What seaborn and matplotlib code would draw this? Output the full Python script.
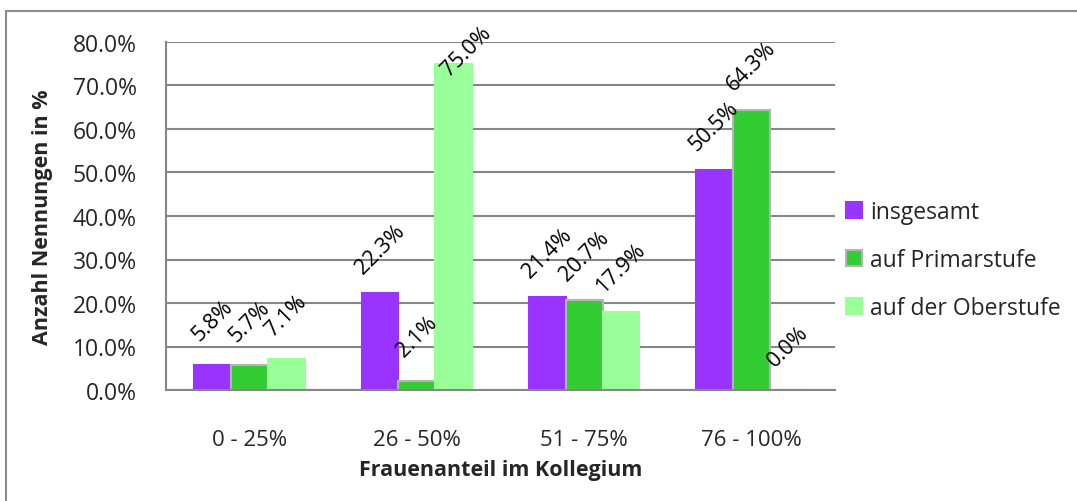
import matplotlib
matplotlib.use("Agg")
import matplotlib.pyplot as plt
import matplotlib.patches as mpatches
import seaborn as sns
import pandas as pd

# Data
categories = ["0 - 25%", "26 - 50%", "51 - 75%", "76 - 100%"]
series_names = ["insgesamt", "auf Primarstufe", "auf der Oberstufe"]
insgesamt = [5.8, 22.3, 21.4, 50.5]
primarstufe = [5.7, 2.1, 20.7, 64.3]
oberstufe = [7.1, 75.0, 17.9, 0.0]
y_ticks = [0, 10, 20, 30, 40, 50, 60, 70, 80]

colors = ["#9933FF", "#33CC33", "#99FF99"]
edge_colors = ["#9933FF", "#B4B4B4", "#99FF99"]
grid_gray = "#868686"

rows = []
for name, vals in zip(series_names, [insgesamt, primarstufe, oberstufe]):
    for cat, v in zip(categories, vals):
        rows.append({"Kategorie": cat, "Serie": name, "Wert": v})
df = pd.DataFrame(rows)

sns.set_style("white")
plt.rcParams["font.family"] = ["Open Sans", "DejaVu Sans"]

fig = plt.figure(figsize=(10.77, 5.02), dpi=100)
ax = fig.add_axes([166 / 1077, 1 - 391 / 502, (835 - 166) / 1077, (391 - 43) / 502])

sns.barplot(data=df, x="Kategorie", y="Wert", hue="Serie", order=categories,
            hue_order=series_names, palette=colors, width=0.66, gap=0,
            saturation=1, ax=ax, legend=False, zorder=3)

for cont, ec in zip(ax.containers, edge_colors):
    for bar in cont:
        bar.set_edgecolor(ec)
        bar.set_linewidth(1.5)

ax.set_ylim(0, 80)
ax.set_xlim(-0.5, 3.5)

# Value labels, rotated above each bar; labels near the top are pulled
# down and to the right so they stay inside the chart
label_offset = 32  # points above the bar top
max_center = 78.0  # data units
pts_per_unit = (348 / 80) * 0.72
for cont in ax.containers:
    for bar in cont:
        h = bar.get_height()
        xc = bar.get_x() + bar.get_width() / 2
        dy = label_offset
        dx = 0
        if h + dy / pts_per_unit > max_center:
            new_dy = (max_center - h) * pts_per_unit
            dx = (dy - new_dy) * 0.4
            dy = new_dy
        ax.annotate(f"{h:.1f}%", xy=(xc, h), xytext=(dx, dy),
                    textcoords="offset points", rotation=45,
                    rotation_mode="anchor", ha="center", va="center",
                    fontsize=15.5, color="black", zorder=5, annotation_clip=False)

ax.set_yticks(y_ticks)
ax.set_yticklabels([f"{t:.1f}%" for t in y_ticks], fontsize=16.5)
ax.set_xticks(range(len(categories)))
ax.set_xticklabels(categories, fontsize=16)
ax.tick_params(axis="x", length=0, pad=28)
ax.tick_params(axis="y", length=8, width=1.5, color=grid_gray, direction="out", pad=13)

# Category boundary ticks
ax.set_xticks([-0.5, 0.5, 1.5, 2.5, 3.5], minor=True)
ax.tick_params(axis="x", which="minor", length=8, width=1.5, color=grid_gray, direction="out")

ax.yaxis.grid(True, color=grid_gray, linewidth=1.5, zorder=0)
ax.set_axisbelow(True)
for side in ["top", "right"]:
    ax.spines[side].set_visible(False)
for side in ["left", "bottom"]:
    ax.spines[side].set_color(grid_gray)
    ax.spines[side].set_linewidth(1.5)
    ax.spines[side].set_zorder(4)

ax.set_xlabel("Frauenanteil im Kollegium", fontsize=15.5, fontweight="bold", va="center")
ax.set_ylabel("Anzahl Nennungen in %", fontsize=15.5, fontweight="bold", va="center")
ax.xaxis.set_label_coords(0.5, (391 - 471) / 348)
ax.yaxis.set_label_coords((42 - 166) / 669, 0.5)

# Legend
handles = [mpatches.Patch(facecolor=c, edgecolor=e, linewidth=1.5, label=n)
           for c, e, n in zip(colors, edge_colors, series_names)]
fig.legend(handles=handles, loc="center left", bbox_to_anchor=(837 / 1077, 1 - 261 / 502),
           frameon=False, fontsize=16.5, handlelength=0.7, handleheight=0.7,
           handletextpad=0.35, labelspacing=1.05, borderaxespad=0)

# Outer chart frame
frame = mpatches.Rectangle((6 / 1077, -0.2), 1.2, 1.2 - 12 / 502, transform=fig.transFigure,
                           fill=False, edgecolor="#8C8C8C", linewidth=1.5, zorder=0)
fig.patches.append(frame)

fig.savefig("out.png", dpi=100)
